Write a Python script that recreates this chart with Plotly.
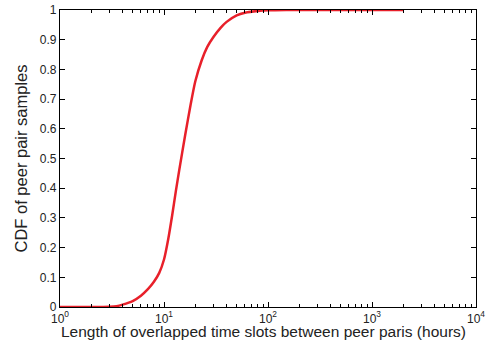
import plotly.graph_objects as go

hours = [1, 2, 3, 3.5, 4, 5, 6, 7, 8, 9, 10, 11, 12, 13, 14, 16, 18, 20, 23, 26,
         30, 35, 40, 50, 60, 80, 100, 150, 200, 500, 1000, 2000]
cdf = [0, 0, 0.001, 0.003, 0.008, 0.02, 0.038, 0.06, 0.085, 0.115, 0.16, 0.23,
       0.31, 0.39, 0.46, 0.58, 0.68, 0.76, 0.83, 0.875, 0.91, 0.94, 0.96, 0.982,
       0.991, 0.997, 0.999, 1, 1, 1, 1, 1]

x_tickvals = [1, 10, 100, 1000, 10000]
x_ticktext = ["10<sup>0</sup>", "10<sup>1</sup>", "10<sup>2</sup>", "10<sup>3</sup>", "10<sup>4</sup>"]
x_minor = [m * d for d in [1, 10, 100, 1000] for m in range(2, 10)]
y_tickvals = [0, 0.1, 0.2, 0.3, 0.4, 0.5, 0.6, 0.7, 0.8, 0.9, 1]
y_ticktext = ["0", "0.1", "0.2", "0.3", "0.4", "0.5", "0.6", "0.7", "0.8", "0.9", "1"]
x_title = "Length of overlapped time slots between peer paris (hours)"

fig = go.Figure()
fig.add_trace(go.Scatter(x=hours, y=cdf, mode="lines",
                         line=dict(color="#e8202a", width=2.5, shape="spline", smoothing=0.6)))

fig.update_layout(
    width=486, height=341,
    margin=dict(l=60, r=10, t=10, b=34),
    paper_bgcolor="white", plot_bgcolor="white",
    showlegend=False,
    font=dict(family="Liberation Sans, Arial, sans-serif", color="#222", size=12),
)
fig.add_annotation(text=x_title, xref="paper", yref="paper", x=0.488, y=0,
                   xanchor="center", yanchor="top", yshift=-14, showarrow=False,
                   font=dict(size=15.5, color="#222"))
fig.update_xaxes(
    type="log", range=[0, 4], automargin=False,
    tickvals=x_tickvals, ticktext=x_ticktext,
    ticks="inside", ticklen=5, tickcolor="black",
    showline=True, linecolor="black", linewidth=1.2, mirror="ticks",
    showgrid=False, zeroline=False,
    minor=dict(tickmode="array", tickvals=x_minor, ticks="inside", ticklen=3,
               tickcolor="black", showgrid=False),
    tickfont=dict(size=12),
)
fig.update_yaxes(
    range=[0, 1], automargin=False,
    tickvals=y_tickvals, ticktext=y_ticktext,
    ticks="inside", ticklen=5, tickcolor="black",
    showline=True, linecolor="black", linewidth=1.2, mirror="ticks",
    showgrid=False, zeroline=False,
    title=dict(text="CDF of peer pair samples", font=dict(size=16.5), standoff=8),
    tickfont=dict(size=12),
)

fig.write_html("out.html")
